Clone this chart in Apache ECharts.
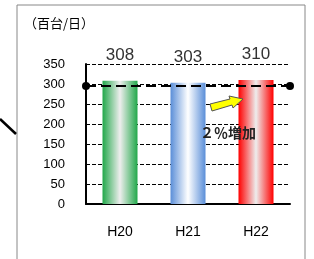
<!DOCTYPE html>
<html>
<head>
<meta charset="utf-8">
<script src="https://cdn.jsdelivr.net/npm/echarts@6/dist/echarts.min.js"></script>
<style>
  html, body { margin: 0; padding: 0; background: #fff; }
  #chart { width: 314px; height: 259px; }
</style>
</head>
<body>
<div id="chart"></div>
<script>
// data
const years = ['H20', 'H21', 'H22']
const counts = [308, 303, 310]
const avgLevel = 295
const barEdges = ['#22a84a', '#5a8ed8', '#ff0000']
const barMiddles = ['#eeeeee', '#ffffff', '#eeeeee']

const font = '"Liberation Sans", Arial, "Noto Sans CJK JP", sans-serif'

function grad (edge, mid) {
  return new echarts.graphic.LinearGradient(0, 0, 1, 0, [
    { offset: 0, color: edge },
    { offset: 0.5, color: mid },
    { offset: 1, color: edge }
  ])
}

const chart = echarts.init(document.getElementById('chart'))
chart.setOption({
  animation: false,
  backgroundColor: '#fff',
  grid: { left: 86, right: 24, top: 64, bottom: 55 },
  graphic: [
    { type: 'rect', shape: { x: 17, y: 5, width: 288, height: 270 },
      style: { fill: 'none', stroke: '#888', lineWidth: 1 } },
    { type: 'line', shape: { x1: 0, y1: 119, x2: 16, y2: 134 },
      style: { stroke: '#000', lineWidth: 2.5 } },
    { type: 'text', left: 24, top: 17,
      style: { text: '（百台/日）', font: '13px "Noto Sans CJK JP", sans-serif', fill: '#000' } },
    { type: 'polygon', z: 10,
      shape: { points: [[210, 104], [230, 99], [229, 96], [243, 99], [233, 108], [232, 105], [212, 111]] },
      style: { fill: '#ffff00', stroke: '#555', lineWidth: 1 } },
    { type: 'text', z: 10, left: 200, top: 126,
      style: { text: '２％増加', font: 'bold 14px "Noto Sans CJK JP", sans-serif', fill: '#222' } }
  ],
  xAxis: {
    type: 'category',
    data: years,
    axisLine: { lineStyle: { color: '#000', width: 2 } },
    axisTick: { inside: true, length: 4, lineStyle: { color: '#000', width: 1.5 } },
    axisLabel: { color: '#000', fontSize: 14, fontFamily: font, margin: 21 }
  },
  yAxis: {
    type: 'value',
    min: 0,
    max: 350,
    interval: 50,
    axisLine: { show: true, lineStyle: { color: '#000', width: 2 } },
    axisTick: { show: false },
    axisLabel: { color: '#000', fontSize: 13, fontFamily: font, margin: 21 },
    splitLine: { lineStyle: { color: '#000', type: [4, 2], width: 1 } }
  },
  series: [{
    type: 'bar',
    barWidth: 35,
    data: counts.map(function (v, i) {
      return { value: v, itemStyle: { color: grad(barEdges[i], barMiddles[i]) } }
    }),
    label: {
      show: true,
      position: 'top',
      distance: 17,
      color: '#333',
      fontSize: 17,
      fontFamily: font
    },
    markLine: {
      silent: true,
      symbol: ['circle', 'circle'],
      symbolSize: 8,
      label: { show: false },
      lineStyle: { color: '#000', type: [10, 5], width: 2 },
      data: [{ yAxis: avgLevel }]
    }
  }]
})
</script>
</body>
</html>
